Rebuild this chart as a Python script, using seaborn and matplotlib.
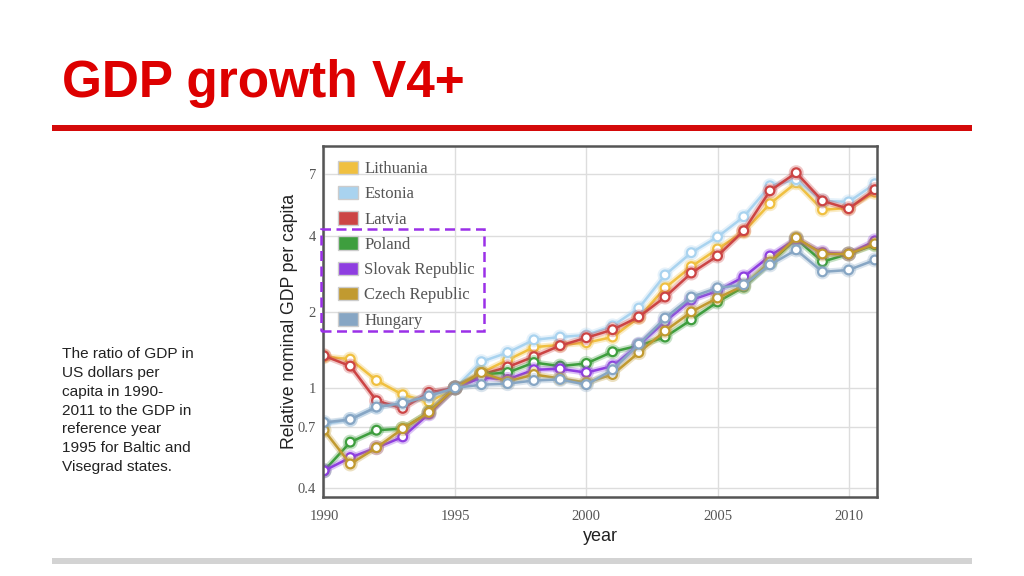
import numpy as np
import pandas as pd
import matplotlib
matplotlib.use("Agg")
import matplotlib.pyplot as plt
import matplotlib.patheffects as pe
from matplotlib.patches import Patch, Rectangle
from matplotlib.ticker import NullLocator
import seaborn as sns

sns.set_style("white")
plt.rcParams["font.family"] = ["Liberation Sans", "DejaVu Sans"]

# values relative to 1995
years = np.arange(1990, 2012)
countries = ["Lithuania", "Estonia", "Latvia", "Poland",
             "Slovak Republic", "Czech Republic", "Hungary"]
lithuania = [1.33, 1.30, 1.07, 0.94, 0.88, 1.00, 1.15, 1.29, 1.45, 1.48, 1.51,
             1.59, 1.90, 2.49, 3.02, 3.55, 4.15, 5.36, 6.49, 5.07, 5.16, 5.95]
estonia = [0.72, 0.75, 0.84, 0.87, 0.93, 1.00, 1.27, 1.38, 1.55, 1.59, 1.62,
           1.76, 2.07, 2.80, 3.43, 3.96, 4.76, 6.31, 6.67, 5.50, 5.45, 6.43]
latvia = [1.34, 1.22, 0.89, 0.83, 0.96, 1.00, 1.13, 1.21, 1.33, 1.47, 1.58,
          1.70, 1.91, 2.29, 2.85, 3.33, 4.19, 6.03, 7.11, 5.50, 5.12, 6.09]
poland = [0.47, 0.61, 0.68, 0.69, 0.80, 1.00, 1.13, 1.15, 1.26, 1.22, 1.25,
          1.39, 1.47, 1.59, 1.86, 2.19, 2.51, 3.13, 3.89, 3.16, 3.39, 3.69]
slovakia = [0.47, 0.53, 0.58, 0.64, 0.79, 1.00, 1.10, 1.08, 1.18, 1.19, 1.15,
            1.22, 1.48, 1.83, 2.23, 2.42, 2.75, 3.33, 3.89, 3.43, 3.39, 3.82]
czech = [0.68, 0.50, 0.58, 0.69, 0.80, 1.00, 1.15, 1.06, 1.13, 1.09, 1.05,
         1.13, 1.38, 1.68, 2.00, 2.27, 2.54, 3.15, 3.93, 3.39, 3.39, 3.72]
hungary = [0.73, 0.75, 0.84, 0.87, 0.93, 1.00, 1.03, 1.04, 1.07, 1.08, 1.03,
           1.18, 1.49, 1.89, 2.29, 2.49, 2.56, 3.07, 3.52, 2.88, 2.93, 3.21]
series = [lithuania, estonia, latvia, poland, slovakia, czech, hungary]

colors = ["#f0c040", "#a9d3ef", "#cc4444", "#3e9e3e",
          "#8e3ee0", "#c19a30", "#87a6c4"]
y_ticks = [0.4, 0.7, 1, 2, 4, 7]
y_tick_labels = ["0.4", "0.7", "1", "2", "4", "7"]
x_ticks = [1990, 1995, 2000, 2005, 2010]

df = pd.concat(
    [pd.DataFrame({"year": years, "ratio": vals, "country": name})
     for name, vals in zip(countries, series)],
    ignore_index=True,
)

fig = plt.figure(figsize=(10.24, 5.76), dpi=100)
ax = fig.add_axes([323 / 1024, 1 - 497 / 576, 554 / 1024, 351 / 576])

sns.lineplot(data=df, x="year", y="ratio", hue="country", hue_order=countries,
             palette=colors, marker="o", markersize=6.3, linewidth=1.8,
             legend=False, ax=ax)

# open circle markers with a soft glow like the original
for line in ax.get_lines():
    c = line.get_color()
    line.set_markeredgecolor(c)
    line.set_markerfacecolor("white")
    line.set_markeredgewidth(1.6)
    line.set_path_effects([pe.Stroke(linewidth=4.5, foreground=c, alpha=0.3),
                           pe.Normal()])

ax.set_yscale("log")
ax.set_ylim(0.37, 9.07)
ax.set_xlim(1989.96, 2011.08)
ax.set_yticks(y_ticks)
ax.set_yticklabels(y_tick_labels)
ax.yaxis.set_minor_locator(NullLocator())
ax.set_xticks(x_ticks)
ax.set_xticklabels([str(x) for x in x_ticks])
ax.grid(True, color="#dddddd", linewidth=1)
ax.set_axisbelow(True)

for lab in ax.get_xticklabels() + ax.get_yticklabels():
    lab.set_family(["Liberation Serif", "DejaVu Serif"])
    lab.set_fontsize(10.5)
    lab.set_color("#555555")
ax.tick_params(axis="both", length=0)
ax.tick_params(axis="x", pad=9)
ax.tick_params(axis="y", pad=5)

for s in ax.spines.values():
    s.set_color("#555555")
    s.set_linewidth(1.8)

ax.set_xlabel("year", fontsize=13, color="#222222", labelpad=4)
ax.set_ylabel("Relative nominal GDP per capita", fontsize=12.7,
              color="#222222", labelpad=0)

handles = [Patch(facecolor=c, edgecolor="#cccccc", linewidth=1) for c in colors]
leg = ax.legend(handles, countries, loc="upper left",
                bbox_to_anchor=(0.027, 0.958), frameon=False,
                borderpad=0, borderaxespad=0, handlelength=1.2,
                handleheight=0.85, handletextpad=0.38, labelspacing=0.53,
                prop={"family": ["Liberation Serif", "DejaVu Serif"],
                      "size": 12})
for t in leg.get_texts():
    t.set_color("#555555")

# dashed box around the V4 countries
fig.add_artist(Rectangle((321 / 1024, 1 - 331 / 576), 163 / 1024, 102 / 576,
                         fill=False, edgecolor="#9b30e8", linewidth=1.8,
                         linestyle=(0, (4, 2.2)), transform=fig.transFigure))

# slide decoration
fig.text(62 / 1024, 1 - 97 / 576, "GDP growth V4+", color="#dd0000",
         fontsize=37, fontweight="bold", va="baseline", ha="left")
fig.add_artist(Rectangle((52 / 1024, 1 - 131 / 576), 920 / 1024, 6 / 576,
                         facecolor="#d40a0a", edgecolor="none",
                         transform=fig.transFigure))
fig.add_artist(Rectangle((52 / 1024, 1 - 564 / 576), 920 / 1024, 6 / 576,
                         facecolor="#d3d3d3", edgecolor="none",
                         transform=fig.transFigure))
fig.text(62 / 1024, 1 - 347 / 576,
         "The ratio of GDP in\nUS dollars per\ncapita in 1990-\n2011 to the GDP in\n"
         "reference year\n1995 for Baltic and\nVisegrad states.",
         fontsize=11.1, color="#222222", va="top", ha="left", linespacing=1.44)

fig.savefig("out.png", dpi=100)
